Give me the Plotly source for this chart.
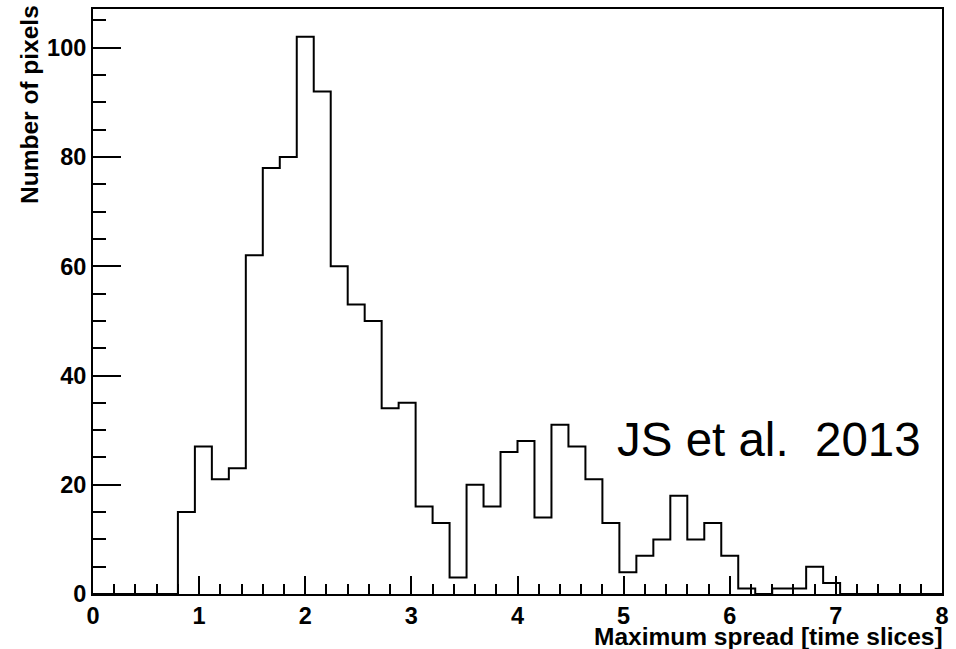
import numpy as np
import plotly.graph_objects as go

# Histogram binning: 50 bins of width 0.16 over [0, 8]
bin_lo = 0.0
bin_hi = 8.0
n_bins = 50

# Counts per bin (bins 0-4 and 44-49 are empty)
counts = [0, 0, 0, 0, 0,
          15, 27, 21, 23, 62, 78, 80, 102, 92, 60,
          53, 50, 34, 35, 16, 13, 3, 20, 16, 26,
          28, 14, 31, 27, 21, 13, 4, 7, 10, 18,
          10, 13, 7, 1, 0, 1, 1, 5, 2,
          0, 0, 0, 0, 0, 0]

x_ticks = [0, 1, 2, 3, 4, 5, 6, 7, 8]
y_ticks = [0, 20, 40, 60, 80, 100]

x_title = "Maximum spread [time slices]"
y_title = "Number of pixels"
note = "JS et al.  2013"

edges = np.linspace(bin_lo, bin_hi, n_bins + 1)
step_y = list(counts) + [0]
y_max = 1.05 * max(counts)

fig = go.Figure()
fig.add_trace(go.Scatter(
    x=edges, y=step_y, mode="lines", line_shape="hv",
    line=dict(color="black", width=2), showlegend=False,
    hoverinfo="skip",
))

tick_font = dict(family="Liberation Sans, Arial, sans-serif", size=23.5,
                 color="black", weight="bold")

fig.update_xaxes(
    range=[bin_lo, bin_hi], tickvals=x_ticks, ticktext=[str(v) for v in x_ticks],
    ticks="inside", ticklen=18, tickwidth=2, tickcolor="black",
    minor=dict(dtick=0.2, ticks="inside", ticklen=10, tickwidth=2, tickcolor="black"),
    showline=True, linecolor="black", linewidth=2, mirror=True,
    showgrid=False, zeroline=False, tickfont=tick_font,
)
fig.update_yaxes(
    range=[0, y_max], tickvals=y_ticks, ticktext=[str(v) for v in y_ticks],
    ticks="inside", ticklen=28, tickwidth=2, tickcolor="black",
    minor=dict(dtick=5, ticks="inside", ticklen=13, tickwidth=2, tickcolor="black"),
    showline=True, linecolor="black", linewidth=2, mirror=True,
    showgrid=False, zeroline=False, tickfont=tick_font,
)

title_font = dict(family="Liberation Sans, Arial, sans-serif", size=24.5,
                  color="black", weight="bold")

fig.add_annotation(text=x_title, xref="paper", yref="paper", x=1.004, y=-0.073,
                   xanchor="right", yanchor="middle", showarrow=False,
                   font=title_font)
fig.add_annotation(text=y_title, xref="paper", yref="paper", x=-0.075, y=1.01,
                   xanchor="center", yanchor="top", textangle=-90,
                   showarrow=False, font=title_font)
fig.add_annotation(text=note, xref="x", yref="y", x=4.92, y=28.3,
                   xanchor="left", yanchor="middle", showarrow=False,
                   font=dict(family="Liberation Sans, Arial, sans-serif",
                             size=47.5, color="black"))

fig.update_layout(
    width=956, height=649,
    margin=dict(l=93, r=8, t=7, b=55),
    plot_bgcolor="white", paper_bgcolor="white",
)

fig.write_html("out.html")
